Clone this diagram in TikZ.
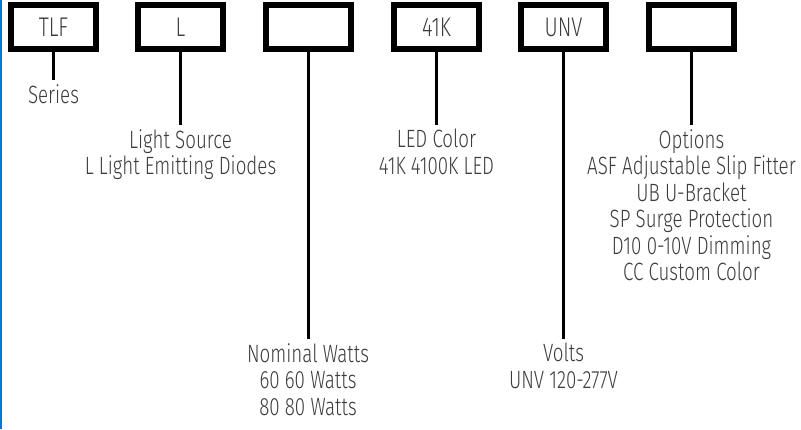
\documentclass[tikz,border=0pt]{standalone}
\usepackage{fontspec}
\setmainfont{Fira Sans}[UprightFont=* Light, FakeStretch=0.75]
\usetikzlibrary{positioning}
\usepackage{xcolor}
\definecolor{texto}{HTML}{3C3C3C}
\definecolor{borde}{HTML}{0078D7}

\tikzset{
  codebox/.style={draw=black, line width=6pt, minimum width=85pt, minimum height=44pt,
    inner sep=0pt, text=texto, font=\fontsize{27}{28}\selectfont},
  lbl/.style={anchor=north, align=center, text=texto, inner sep=4pt,
    font=\fontsize{25}{26.5}\selectfont},
  stem/.style={line width=3pt}
}

\begin{document}
\begin{tikzpicture}[x=1pt, y=-1pt]
        \useasboundingbox (0,0) rectangle (801,429);
        \draw[borde, line width=2pt] (1,0) -- (1,429);
        % code boxes
        \foreach \n/\x/\t in {tlf/53.5/TLF, lsrc/180.5/L, watts/308/{}, color/436.5/41K, volts/563.5/UNV, opts/691.5/{}} {
          \node[codebox] (\n) at (\x,27) {\t};
        }
        % descriptions
        \node[lbl] (series) at (53.5,80) {Series};
        \node[lbl] (lsrcdesc) at (180.5,125) {Light Source\\L Light Emitting Diodes};
        \node[lbl] (wattsdesc) at (308,339) {Nominal Watts\\60 60 Watts\\80 80 Watts};
        \node[lbl] (colordesc) at (436.5,125) {LED Color\\41K 4100K LED};
        \node[lbl] (voltsdesc) at (563.5,339) {Volts\\UNV 120-277V};
        \node[lbl] (optsdesc) at (691.5,125) {Options\\ASF Adjustable Slip Fitter\\UB U-Bracket\\SP Surge Protection\\D10 0-10V Dimming\\CC Custom Color};
        \draw[stem] (tlf.south) -- (series.north);
        \draw[stem] (lsrc.south) -- (lsrcdesc.north);
        \draw[stem] (watts.south) -- (wattsdesc.north);
        \draw[stem] (color.south) -- (colordesc.north);
        \draw[stem] (volts.south) -- (voltsdesc.north);
        \draw[stem] (opts.south) -- (optsdesc.north);
      \end{tikzpicture}
\end{document}
